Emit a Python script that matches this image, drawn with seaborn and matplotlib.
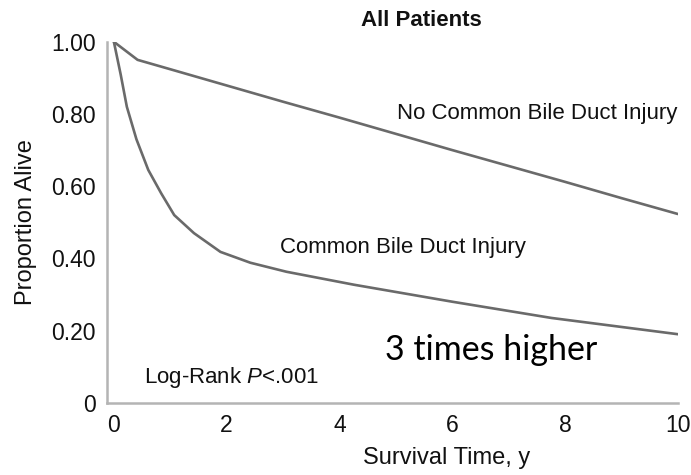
import matplotlib
matplotlib.use("Agg")
import matplotlib.pyplot as plt
import seaborn as sns
import pandas as pd

# Data
no_injury_t = [0, 0.42, 1, 2, 3, 4, 5, 6, 7, 8, 9, 10]
no_injury_s = [1.0, 0.95, 0.924, 0.879, 0.834, 0.79, 0.745, 0.70, 0.656, 0.612, 0.567, 0.523]
injury_t = [0, 0.12, 0.23, 0.4, 0.61, 0.84, 1.07, 1.42, 1.89, 2.42, 3.06, 4.26, 6, 7.76, 10]
injury_s = [1.0, 0.91, 0.82, 0.73, 0.645, 0.58, 0.52, 0.47, 0.418, 0.388, 0.363, 0.327, 0.28, 0.235, 0.19]
x_ticks = [0, 2, 4, 6, 8, 10]
y_ticks = [0, 0.2, 0.4, 0.6, 0.8, 1.0]
y_tick_labels = ["0", "0.20", "0.40", "0.60", "0.80", "1.00"]

df = pd.concat([
    pd.DataFrame({"t": no_injury_t, "s": no_injury_s, "g": "No Common Bile Duct Injury"}),
    pd.DataFrame({"t": injury_t, "s": injury_s, "g": "Common Bile Duct Injury"}),
])

sns.set_style("white")
plt.rcParams["font.family"] = ["Liberation Sans", "DejaVu Sans"]
plt.rcParams["mathtext.fontset"] = "custom"
plt.rcParams["mathtext.rm"] = "Liberation Sans"
plt.rcParams["mathtext.it"] = "Liberation Sans:italic"

fig = plt.figure(figsize=(6.91, 4.75), dpi=100)
ax = fig.add_axes([0.155, 0.152, 0.826, 0.760])

sns.lineplot(data=df, x="t", y="s", hue="g", palette=["#6a6a6a", "#6a6a6a"],
             linewidth=1.9, legend=False, ax=ax)

ax.set_xlim(-0.12, 10)
ax.set_ylim(0, 1.0)
ax.set_xticks(x_ticks)
ax.set_xticklabels([str(v) for v in x_ticks])
ax.set_yticks(y_ticks)
ax.set_yticklabels(y_tick_labels)

for s in ["top", "right"]:
    ax.spines[s].set_visible(False)
for s in ["left", "bottom"]:
    ax.spines[s].set_color("#b4b4b4")
    ax.spines[s].set_linewidth(1.8)
ax.spines["left"].set_bounds(0, 1.0)
ax.tick_params(axis="both", colors="#b4b4b4", labelcolor="#111111",
               labelsize=16.5, length=5, width=1.6, direction="out", pad=3)

ax.set_xlabel("Survival Time, y", fontsize=17, color="#111111", labelpad=7)
ax.xaxis.label.set_x(0.595)
ax.set_ylabel("Proportion Alive", fontsize=17, color="#111111", labelpad=10)

ax.text(5.45, 1.06, "All Patients", fontsize=16, fontweight="bold",
        ha="center", va="center", color="#111111", clip_on=False)
ax.text(10, 0.80, "No Common Bile Duct Injury", fontsize=16,
        ha="right", va="center", color="#111111")
ax.text(2.94, 0.43, "Common Bile Duct Injury", fontsize=16,
        ha="left", va="center", color="#111111")
ax.text(0.53, 0.07, "Log-Rank $\\mathit{P}$<.001", fontsize=16, ha="left", va="center",
        color="#111111")
ax.text(4.8, 0.145, "3 times higher", fontsize=24.5, family=["Lato", "DejaVu Sans"],
        ha="left", va="center", color="#000000")

fig.savefig("out.png", dpi=100)
